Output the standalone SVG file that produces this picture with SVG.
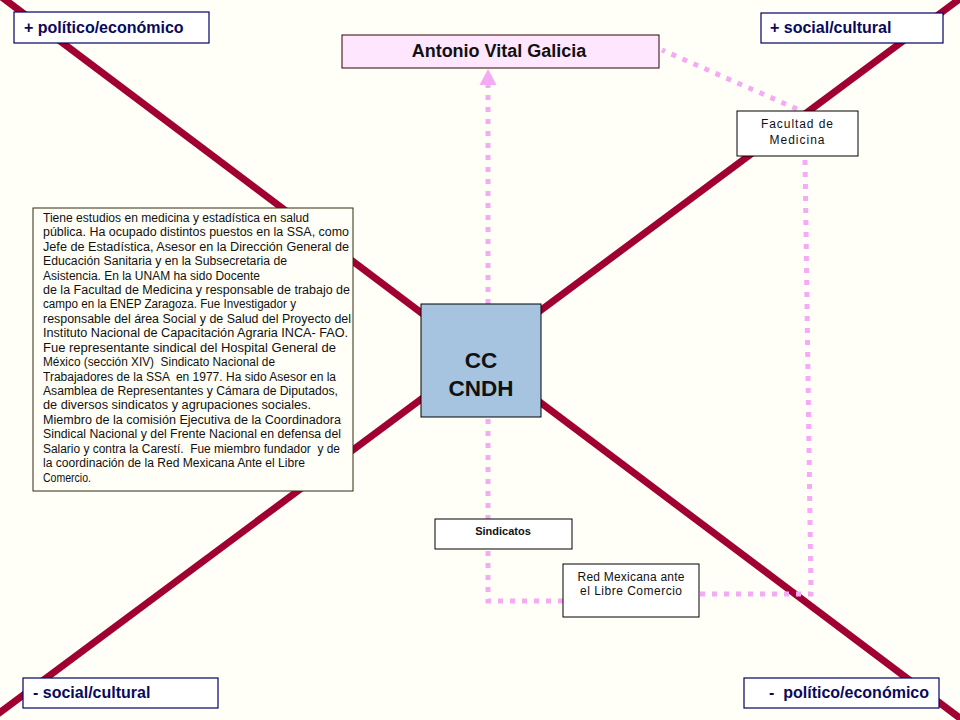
<svg xmlns="http://www.w3.org/2000/svg" width="960" height="720" viewBox="0 0 960 720">
<style>
.axis{stroke:#A10032;stroke-width:7;fill:none}
.lab rect{fill:#FFFFFF;stroke:#000066;stroke-width:1.2}
.lab text{font-family:"Liberation Sans",Arial,sans-serif;font-weight:bold;font-size:16px;fill:#0A0A5C}
.dot{stroke:#F4AAF4;stroke-width:5;stroke-dasharray:5 7;fill:none}
.box{fill:#FFFFFF;stroke:#000000;stroke-width:1}
.sm{font-family:"Liberation Sans",Arial,sans-serif;font-weight:bold;font-size:11px;fill:#111111;text-anchor:middle}
.rg{font-family:"Liberation Sans",Arial,sans-serif;font-size:12px;fill:#111111;text-anchor:middle}
.para{font-family:"Liberation Sans",Arial,sans-serif;font-size:12px;fill:#111111}
</style>
<defs>
<marker id="arr" markerUnits="userSpaceOnUse" markerWidth="18" markerHeight="18" refX="0" refY="9" orient="auto">
<path d="M0,0.5 L16,9 L0,17.5 z" fill="#F4AAF4"/>
</marker>
</defs>
<rect x="0" y="0" width="960" height="720" fill="#FFFFF7"/>
<g id="axes">
<line class="axis" x1="-5" y1="-8" x2="965" y2="722"/>
<line class="axis" x1="-5" y1="716" x2="965" y2="-5"/>
</g>
<g id="connectors">
<path class="dot" d="M563,601 L488,601 L488,85" marker-end="url(#arr)"/>
<path class="dot" d="M700,594 L811,594 L805,157"/>
<path class="dot" d="M797,109 L662,50"/>
</g>
<g id="label-pol-pos" class="lab"><rect x="14" y="12" width="195" height="31"/><text x="24" y="33">+ político/económico</text></g>
<g id="label-soc-pos" class="lab"><rect x="761" y="13" width="182" height="30"/><text x="770" y="33">+ social/cultural</text></g>
<g id="label-soc-neg" class="lab"><rect x="23" y="678" width="195" height="30"/><text x="33" y="698">- social/cultural</text></g>
<g id="label-pol-neg" class="lab"><rect x="744" y="678" width="195" height="30"/><text x="769" y="698" xml:space="preserve">-  político/económico</text></g>
<g id="antonio">
<rect x="342" y="35" width="317" height="33" fill="#FFE6FF" stroke="#330000" stroke-width="1"/>
<text x="499" y="57" text-anchor="middle" font-family="&quot;Liberation Sans&quot;,Arial,sans-serif" font-weight="bold" font-size="18" fill="#111111">Antonio Vital Galicia</text>
</g>
<g id="facultad">
<rect class="box" x="737" y="111" width="121" height="45"/>
<text class="rg" x="797" y="128" font-size="12.5" textLength="72">Facultad de</text>
<text class="rg" x="797" y="143.5" font-size="12.5" textLength="55">Medicina</text>
</g>
<g id="bio">
<rect x="33" y="208" width="320" height="283" fill="#FFFFF7" stroke="#332A10" stroke-width="1"/>
<g lengthAdjust="spacingAndGlyphs">
<text class="para" x="43" y="221.7" textLength="266" lengthAdjust="spacingAndGlyphs">Tiene estudios en medicina y estadística en salud</text>
<text class="para" x="43" y="236.1" textLength="306" lengthAdjust="spacingAndGlyphs">pública. Ha ocupado distintos puestos en la SSA, como</text>
<text class="para" x="43" y="250.6" textLength="306" lengthAdjust="spacingAndGlyphs">Jefe de Estadística, Asesor en la Dirección General de</text>
<text class="para" x="43" y="265.0" textLength="244" lengthAdjust="spacingAndGlyphs">Educación Sanitaria y en la Subsecretaria de</text>
<text class="para" x="43" y="279.5" textLength="217" lengthAdjust="spacingAndGlyphs">Asistencia. En la UNAM ha sido Docente</text>
<text class="para" x="43" y="293.9" textLength="307" lengthAdjust="spacingAndGlyphs">de la Facultad de Medicina y responsable de trabajo de</text>
<text class="para" x="43" y="308.3" textLength="253" lengthAdjust="spacingAndGlyphs">campo en la ENEP Zaragoza. Fue Investigador y</text>
<text class="para" x="43" y="322.8" textLength="308" lengthAdjust="spacingAndGlyphs">responsable del área Social y de Salud del Proyecto del</text>
<text class="para" x="43" y="337.2" textLength="305" lengthAdjust="spacingAndGlyphs">Instituto Nacional de Capacitación Agraria INCA- FAO.</text>
<text class="para" x="43" y="351.7" textLength="293" lengthAdjust="spacingAndGlyphs">Fue representante sindical del Hospital General de</text>
<text class="para" x="43" y="366.1" textLength="232" lengthAdjust="spacingAndGlyphs" xml:space="preserve">México (sección XIV)  Sindicato Nacional de</text>
<text class="para" x="43" y="380.5" textLength="293" lengthAdjust="spacingAndGlyphs" xml:space="preserve">Trabajadores de la SSA  en 1977. Ha sido Asesor en la</text>
<text class="para" x="43" y="395.0" textLength="295" lengthAdjust="spacingAndGlyphs">Asamblea de Representantes y Cámara de Diputados,</text>
<text class="para" x="43" y="409.4" textLength="268" lengthAdjust="spacingAndGlyphs">de diversos sindicatos y agrupaciones sociales.</text>
<text class="para" x="43" y="423.9" textLength="298" lengthAdjust="spacingAndGlyphs">Miembro de la comisión Ejecutiva de la Coordinadora</text>
<text class="para" x="43" y="438.3" textLength="298" lengthAdjust="spacingAndGlyphs">Sindical Nacional y del Frente Nacional en defensa del</text>
<text class="para" x="43" y="452.7" textLength="297" lengthAdjust="spacingAndGlyphs" xml:space="preserve">Salario y contra la Carestí.  Fue miembro fundador  y de</text>
<text class="para" x="43" y="467.2" textLength="262" lengthAdjust="spacingAndGlyphs">la coordinación de la Red Mexicana Ante el Libre</text>
<text class="para" x="43" y="481.6" textLength="48" lengthAdjust="spacingAndGlyphs">Comercio.</text>
</g>
</g>
<g id="cndh">
<rect x="421" y="304" width="120" height="113" fill="#A6C4E0" stroke="#000000" stroke-width="1"/>
<text x="481" y="368" text-anchor="middle" font-family="&quot;Liberation Sans&quot;,Arial,sans-serif" font-weight="bold" font-size="22.5" fill="#111111">CC</text>
<text x="481" y="396" text-anchor="middle" font-family="&quot;Liberation Sans&quot;,Arial,sans-serif" font-weight="bold" font-size="22.5" fill="#111111">CNDH</text>
</g>
<g id="sindicatos">
<rect class="box" x="435" y="519" width="137" height="30"/>
<text class="sm" x="503" y="535">Sindicatos</text>
</g>
<g id="redmex">
<rect class="box" x="563" y="564" width="136" height="53"/>
<text class="rg" x="631" y="581" textLength="107">Red Mexicana ante</text>
<text class="rg" x="631" y="595" textLength="102">el Libre Comercio</text>
</g>
</svg>
